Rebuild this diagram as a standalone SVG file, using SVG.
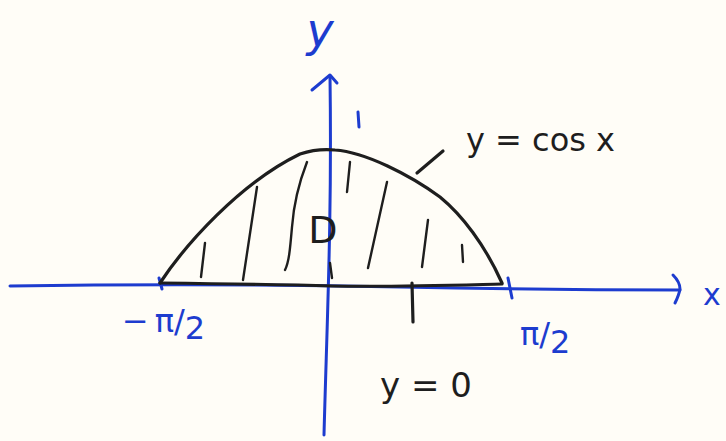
<svg xmlns="http://www.w3.org/2000/svg" width="726" height="441" viewBox="0 0 726 441">
<style>
.blue{stroke:#1d3ccf;fill:none;stroke-width:3;stroke-linecap:round;stroke-linejoin:round}
.ink{stroke:#1e1e1e;fill:none;stroke-width:3.2;stroke-linecap:round;stroke-linejoin:round}
.hatch{stroke:#1e1e1e;fill:none;stroke-width:2.4;stroke-linecap:round}
.tb{fill:#1d3ccf;font-family:"DejaVu Sans","Liberation Sans",sans-serif}
.tk{fill:#1e1e1e;font-family:"DejaVu Sans","Liberation Sans",sans-serif}
</style>
<rect width="726" height="441" fill="#fffdf7"/>
<g id="axes">
  <path class="blue" d="M10,286 C150,284 300,285 400,287 C500,289 600,290 680,290"/>
  <path class="blue" d="M673,275 C678,280 680,284 680,289 C679,295 677,299 675,303"/>
  <path class="blue" d="M324,435 C327,320 332,220 330,76"/>
  <path class="blue" d="M312,90 L330,75 L337,83"/>
  <path class="blue" d="M159,278 L162,289"/>
  <path class="blue" d="M508,278 L512,298"/>
  <path class="blue" d="M358,112 L359,127"/>
</g>
<g id="curve">
  <path class="ink" d="M160,283 C185,245 240,183 300,154 C315,149 325,149 335,150 C365,152 410,175 440,197 C462,215 485,245 502,283"/>
  <path class="ink" d="M160,283 C250,284 300,285 332,286 C400,287 460,285 502,284"/>
  <path class="ink" d="M412,283 L413,322"/>
  <path class="ink" d="M417,173 L443,151"/>
</g>
<g id="hatching">
  <path class="hatch" d="M205,243 L201,277"/>
  <path class="hatch" d="M257,187 L243,280"/>
  <path class="hatch" d="M307,162 C300,180 294,200 292,227 C290,250 289,262 285,270"/>
  <path class="hatch" d="M330,263 L332,278"/>
  <path class="hatch" d="M350,162 L347,192"/>
  <path class="hatch" d="M387,182 L368,268"/>
  <path class="hatch" d="M428,220 L422,267"/>
  <path class="hatch" d="M462,245 L463,262"/>
</g>
<g id="labels">
  <text class="tb" x="320" y="46" font-size="46" font-style="italic" text-anchor="middle">y</text>
  <text class="tb" x="712" y="305" font-size="30" text-anchor="middle">x</text>
  <text class="tb" x="122" y="332" font-size="32">−<tspan dx="6">π</tspan><tspan>/</tspan><tspan dy="7">2</tspan></text>
  <text class="tb" x="520" y="345" font-size="32">π<tspan>/</tspan><tspan dy="8">2</tspan></text>
  <text class="tk" x="323" y="243" font-size="38" text-anchor="middle">D</text>
  <text class="tk" x="466" y="151" font-size="32">y = cos x</text>
  <text class="tk" x="380" y="397" font-size="34">y = 0</text>
</g>
</svg>
